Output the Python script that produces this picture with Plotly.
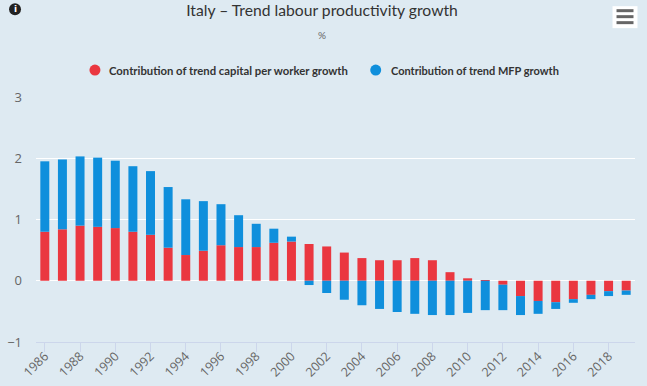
import plotly.graph_objects as go

years = list(range(1986, 2020))
capital = [0.80, 0.84, 0.90, 0.88, 0.86, 0.80, 0.75, 0.54, 0.42, 0.49, 0.58, 0.55, 0.55, 0.62, 0.64, 0.60, 0.56,
           0.46, 0.37, 0.335, 0.335, 0.37, 0.335, 0.14, 0.04, 0.01, -0.065, -0.25, -0.33, -0.35, -0.30, -0.23, -0.17, -0.16]
mfp = [1.15, 1.14, 1.13, 1.13, 1.10, 1.07, 1.04, 0.99, 0.91, 0.81, 0.67, 0.52, 0.38, 0.23, 0.08, -0.07, -0.20,
       -0.31, -0.40, -0.46, -0.51, -0.54, -0.56, -0.56, -0.525, -0.48, -0.415, -0.31, -0.21, -0.11, -0.06, -0.07, -0.08, -0.07]
names = ["Contribution of trend capital per worker growth", "Contribution of trend MFP growth"]
colors = ["#ea3740", "#0f8fdc"]
W, H = 647, 386
L, R, T, B = 36, 11.5, 97, 43.5
BG = "#deeaf2"
px = lambda x: (x - L) / (W - L - R)
py = lambda y: (H - B - y) / (H - T - B)

fig = go.Figure()
for vals, name, color in zip([capital, mfp], names, colors):
    fig.add_bar(x=years, y=vals, name=name, marker=dict(color=color, line_width=0), showlegend=False)

shapes = [
    dict(type="circle", xref="paper", yref="paper", x0=px(9), x1=px(21), y0=py(15), y1=py(3),
         fillcolor="#222222", line_width=0),
    dict(type="rect", xref="paper", yref="paper", x0=px(613), x1=px(638), y0=py(28), y1=py(6),
         fillcolor="white", line_width=0, layer="below"),
]
for y in (10, 16, 22):
    shapes.append(dict(type="rect", xref="paper", yref="paper", x0=px(617), x1=px(634), y0=py(y + 2), y1=py(y - 1),
                       fillcolor="#666666", line_width=0))

annotations = [
    dict(text="<b>i</b>", xref="paper", yref="paper", x=px(15), y=py(9), showarrow=False,
         xanchor="center", yanchor="middle",
         font=dict(family="DejaVu Sans", size=9, color="white")),
    dict(text="%", xref="paper", yref="paper", x=px(322), y=py(35), showarrow=False,
         xanchor="center", yanchor="middle",
         font=dict(family="Lato", size=10, color="#666666")),
]
for name, color, cx, tx, size in zip(names, colors, (95, 376), (108, 390), (11.3, 11)):
    shapes.append(dict(type="circle", xref="paper", yref="paper", x0=px(cx - 5.5), x1=px(cx + 5.5),
                       y0=py(75.5), y1=py(64.5), fillcolor=color, line_width=0))
    annotations.append(dict(text=f"<b>{name}</b>", xref="paper", yref="paper", x=px(tx), y=py(70), showarrow=False,
                            xanchor="left", yanchor="middle", xshift=-1,
                            font=dict(family="Lato", size=size, color="#333333")))

fig.update_layout(
    width=W, height=H, margin=dict(l=L, r=R, t=T, b=B, autoexpand=False),
    paper_bgcolor=BG, plot_bgcolor=BG, barmode="relative", bargap=0.49, showlegend=False,
    title=dict(text="Italy – Trend labour productivity growth", x=322 / W, xanchor="center",
               y=1 - 11 / H, yanchor="middle",
               font=dict(family="Lato", size=15.7, color="#333333")),
    shapes=shapes, annotations=annotations,
    xaxis=dict(range=[1985.5, 2019.5], tick0=1986, dtick=2, tickangle=-45, ticks="outside", ticklen=9, tickwidth=1,
               tickcolor="#ccd6eb", showgrid=False, zeroline=False, showline=True, linecolor="#ccd6eb", linewidth=1,
               ticklabelstandoff=-8,
               tickfont=dict(family="Open Sans", size=12.5, color="#666666")),
    yaxis=dict(range=[-1, 3], tickvals=[-1, 0, 1, 2, 3], ticktext=["−1", "0", "1", "2", "3"],
               gridcolor="white", gridwidth=1, zeroline=False, showline=False, ticks="", ticklabelstandoff=13,
               tickfont=dict(family="Open Sans", size=13, color="#666666")),
)
fig.write_html("out.html", post_script="document.body.style.margin='0';", config=dict(displayModeBar=False))
